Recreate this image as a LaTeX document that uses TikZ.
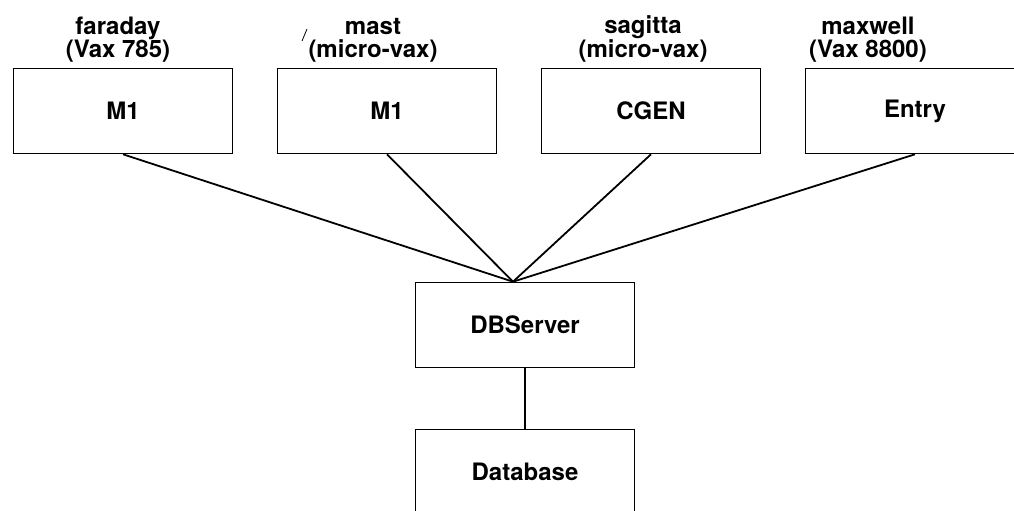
\documentclass[tikz,border=0pt]{standalone}
\usepackage{fontspec}
\setmainfont{TeX Gyre Heros}
\usetikzlibrary{positioning}

\begin{document}
\begin{tikzpicture}
	[x=1pt,y=-1pt,
	 prog/.style={draw,line width=1.6pt,minimum width=219pt,minimum height=85pt,inner sep=0pt,font=\fontsize{24}{24}\selectfont\bfseries},
	 host/.style={align=center,inner sep=0pt,anchor=south,font=\fontsize{24}{23}\selectfont\bfseries},
	 link/.style={line width=1.8pt}]
	\useasboundingbox (0,0) rectangle (1014,511);
	% processes on the four machines
	\node[prog] (faraday) at (123,111) {M1};
	\node[prog] (mast) at (387,111) {M1};
	\node[prog] (sagitta) at (651,111) {CGEN};
	\node[prog] (maxwell) at (915,111) {Entry};
	% server and its database
	\node[prog] (dbserver) at (525,325) {DBServer};
	\node[prog] (database) at (525,472) {Database};
	\coordinate[left=12pt of dbserver.north] (hub);
	% machine names
	\node[host] (farName) at (118,63) {faraday\\(Vax 785)};
	\node[host] (mastName) at (373,63) {mast\\(micro-vax)};
	\node[host] (sagName) at (643,63) {sagitta\\(micro-vax)};
	\node[host] (maxName) at (868,63) {maxwell\\(Vax 8800)};
	\draw[line width=0.8pt] (302,41) -- (307,29);
	% connections
	\draw[link] (faraday.south) -- (hub);
	\draw[link] (mast.south) -- (hub);
	\draw[link] (sagitta.south) -- (hub);
	\draw[link] (maxwell.south) -- (hub);
	\draw[link] (dbserver.south) -- (database.north);
\end{tikzpicture}
\end{document}
